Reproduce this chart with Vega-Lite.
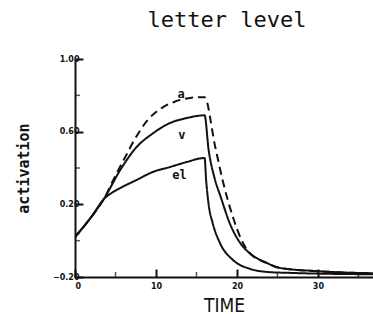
{
  "$schema": "https://vega.github.io/schema/vega-lite/v6.json",
  "width": 298,
  "height": 218,
  "autosize": {"type": "none"},
  "padding": {"left": 75, "top": 59, "right": 0, "bottom": 37},
  "background": "white",
  "title": {"text": "letter level", "font": "DejaVu Sans Mono", "fontSize": 22, "fontWeight": "normal", "color": "#111", "anchor": "middle", "baseline": "bottom", "offset": 1, "dx": 3},
  "config": {"view": {"stroke": null}},
  "datasets": {
    "curves": [
      {"s": "a", "t": 0, "v": 0.02}, {"s": "a", "t": 2, "v": 0.13}, {"s": "a", "t": 3.7, "v": 0.24}, {"s": "a", "t": 4.9, "v": 0.35}, {"s": "a", "t": 6.2, "v": 0.46}, {"s": "a", "t": 7.4, "v": 0.56}, {"s": "a", "t": 9, "v": 0.665}, {"s": "a", "t": 10.7, "v": 0.73}, {"s": "a", "t": 12.3, "v": 0.765}, {"s": "a", "t": 13.8, "v": 0.783}, {"s": "a", "t": 15.2, "v": 0.79}, {"s": "a", "t": 16, "v": 0.79}, {"s": "a", "t": 17.3, "v": 0.52}, {"s": "a", "t": 18.3, "v": 0.32}, {"s": "a", "t": 19.5, "v": 0.13}, {"s": "a", "t": 20.6, "v": 0.0}, {"s": "a", "t": 21.5, "v": -0.065}, {"s": "a", "t": 23.7, "v": -0.123}, {"s": "a", "t": 25.3, "v": -0.15}, {"s": "a", "t": 30, "v": -0.168}, {"s": "a", "t": 36.8, "v": -0.18},
      {"s": "v", "t": 0, "v": 0.02}, {"s": "v", "t": 2, "v": 0.13}, {"s": "v", "t": 3.7, "v": 0.24}, {"s": "v", "t": 5.6, "v": 0.39}, {"s": "v", "t": 7.6, "v": 0.515}, {"s": "v", "t": 9.6, "v": 0.59}, {"s": "v", "t": 11.7, "v": 0.647}, {"s": "v", "t": 13.8, "v": 0.675}, {"s": "v", "t": 16, "v": 0.69}, {"s": "v", "t": 16.5, "v": 0.5}, {"s": "v", "t": 17.2, "v": 0.35}, {"s": "v", "t": 18, "v": 0.24}, {"s": "v", "t": 19.1, "v": 0.097}, {"s": "v", "t": 20.4, "v": -0.013}, {"s": "v", "t": 21.6, "v": -0.07}, {"s": "v", "t": 23.7, "v": -0.123}, {"s": "v", "t": 25.3, "v": -0.15}, {"s": "v", "t": 30, "v": -0.168}, {"s": "v", "t": 36.8, "v": -0.18},
      {"s": "el", "t": 0, "v": 0.02}, {"s": "el", "t": 2, "v": 0.13}, {"s": "el", "t": 3.7, "v": 0.235}, {"s": "el", "t": 4.6, "v": 0.265}, {"s": "el", "t": 5.6, "v": 0.29}, {"s": "el", "t": 7.6, "v": 0.334}, {"s": "el", "t": 9.6, "v": 0.378}, {"s": "el", "t": 11.7, "v": 0.405}, {"s": "el", "t": 13.8, "v": 0.433}, {"s": "el", "t": 16, "v": 0.455}, {"s": "el", "t": 16.2, "v": 0.33}, {"s": "el", "t": 16.5, "v": 0.2}, {"s": "el", "t": 17, "v": 0.097}, {"s": "el", "t": 17.9, "v": -0.013}, {"s": "el", "t": 19.5, "v": -0.106}, {"s": "el", "t": 21.6, "v": -0.155}, {"s": "el", "t": 23.7, "v": -0.172}, {"s": "el", "t": 27, "v": -0.178}, {"s": "el", "t": 36.8, "v": -0.185}
    ],
    "labels": [
      {"s": "a", "t": 13.1, "v": 0.81}, {"s": "v", "t": 13.2, "v": 0.58}, {"s": "el", "t": 12.9, "v": 0.36}
    ],
    "yminor": [{"t": 0, "v": 0.0}, {"t": 0, "v": 0.4}, {"t": 0, "v": 0.8}],
    "xminor": [{"t": 5, "v": -0.2}, {"t": 15, "v": -0.2}, {"t": 25, "v": -0.2}, {"t": 35, "v": -0.2}]
  },
  "layer": [
    {
      "data": {"name": "curves"},
      "mark": {"type": "line", "interpolate": "monotone", "color": "#111", "strokeWidth": 2, "clip": true},
      "encoding": {
        "x": {"field": "t", "type": "quantitative", "scale": {"domain": [0, 36.8], "nice": false, "zero": false},
          "axis": {"values": [0, 10, 20, 30], "title": "TIME", "titleFont": "DejaVu Sans Condensed", "titleFontSize": 19, "titleFontWeight": "normal", "titleColor": "#111", "titlePadding": 6,
            "labelFont": "DejaVu Sans", "labelFontSize": 8, "labelFontWeight": "bold", "labelColor": "#111", "labelPadding": 13,
            "domainColor": "#111", "domainWidth": 2, "tickColor": "#111", "tickWidth": 2, "tickSize": -8, "grid": false}},
        "y": {"field": "v", "type": "quantitative", "scale": {"domain": [-0.2, 1.0], "nice": false, "zero": false},
          "axis": {"values": [-0.2, 0.2, 0.6, 1.0], "format": ".2f", "title": "activation", "titleFont": "DejaVu Sans Mono", "titleFontSize": 15, "titleFontWeight": "bold", "titleColor": "#111", "titlePadding": 21,
            "labelFont": "DejaVu Sans", "labelFontSize": 8, "labelFontWeight": "bold", "labelColor": "#111", "labelPadding": 4,
            "domainColor": "#111", "domainWidth": 2, "tickColor": "#111", "tickWidth": 2, "tickSize": -8, "grid": false}},
        "detail": {"field": "s"},
        "strokeDash": {"field": "s", "type": "nominal", "scale": {"domain": ["a", "v", "el"], "range": [[8, 5], [1, 0], [1, 0]]}, "legend": null}
      }
    },
    {
      "data": {"name": "labels"},
      "mark": {"type": "text", "font": "DejaVu Sans Mono", "fontSize": 12, "fontWeight": "bold", "color": "#111"},
      "encoding": {
        "x": {"field": "t", "type": "quantitative"},
        "y": {"field": "v", "type": "quantitative"},
        "text": {"field": "s"}
      }
    },
    {
      "data": {"name": "yminor"},
      "mark": {"type": "tick", "orient": "horizontal", "size": 5, "thickness": 1.5, "color": "#111", "xOffset": 2.5},
      "encoding": {
        "x": {"field": "t", "type": "quantitative"},
        "y": {"field": "v", "type": "quantitative"}
      }
    },
    {
      "data": {"name": "xminor"},
      "mark": {"type": "tick", "orient": "vertical", "size": 5, "thickness": 1.5, "color": "#111", "yOffset": -2.5},
      "encoding": {
        "x": {"field": "t", "type": "quantitative"},
        "y": {"field": "v", "type": "quantitative"}
      }
    }
  ]
}
